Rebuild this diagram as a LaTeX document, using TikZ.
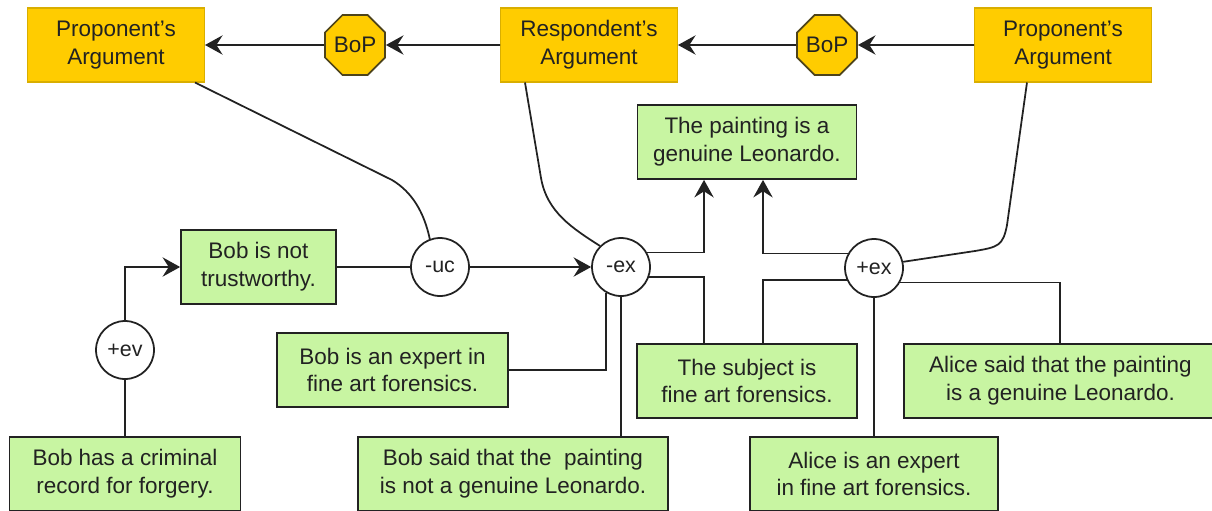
\documentclass[tikz,border=0pt]{standalone}
\usepackage{fontspec}
\setmainfont{Liberation Sans}
\usetikzlibrary{shapes.geometric,arrows.meta,calc}
\definecolor{yfill}{HTML}{FFCC00}
\definecolor{ydraw}{HTML}{D9AE00}
\definecolor{gfill}{HTML}{C8F5A2}
\definecolor{ink}{HTML}{222222}
\begin{document}
\begin{tikzpicture}[x=0.02cm,y=-0.02cm,
 font=\fontsize{12.8}{15.8}\selectfont, text=ink,
 arg/.style={rectangle, fill=yfill, draw=ydraw, line width=0.6pt, align=center, inner sep=0pt, minimum width=3.54cm, minimum height=1.48cm},
 bop/.style={regular polygon, regular polygon sides=8, fill=yfill, draw=ink!80!yfill, line width=1pt, minimum size=1.3cm, inner sep=0pt},
 prop/.style={rectangle, fill=gfill, draw=ink, line width=1pt, align=center, inner sep=0pt},
 sch/.style={circle, fill=white, draw=ink, line width=1pt, minimum size=1.16cm, inner sep=0pt, font=\fontsize{12.2}{14}\selectfont},
 link/.style={draw=ink, line width=1pt},
 arr/.style={link, -{Stealth[length=10pt, width=11pt, inset=3.5pt]}}
]
\useasboundingbox (0,0) rectangle (1212,510);

% top row
\node[arg] (p1) at (116,45) {Proponent's\\Argument};
\node[bop] (bop1) at (355,45) {BoP};
\node[arg] (resp) at (589,45) {Respondent's\\Argument};
\node[bop] (bop2) at (827,45) {BoP};
\node[arg] (p2) at (1063,45) {Proponent's\\Argument};

% propositions
\node[prop, minimum width=4.38cm, minimum height=1.48cm] (paint) at (747,142) {The painting is a\\genuine Leonardo.};
\node[prop, minimum width=3.1cm, minimum height=1.48cm] (bnt) at (258.5,267) {Bob is not\\trustworthy.};
\node[prop, minimum width=4.62cm, minimum height=1.48cm] (bexp) at (392.5,370) {Bob is an expert in\\fine art forensics.};
\node[prop, minimum width=4.4cm, minimum height=1.48cm] (subj) at (747,381) {The subject is\\fine art forensics.};
\node[prop, minimum width=6.26cm, minimum height=1.48cm] (asaid) at (1060.5,381) {Alice said that the painting\\is a genuine Leonardo.};
\node[prop, minimum width=4.62cm, minimum height=1.48cm] (crim) at (125,474) {Bob has a criminal\\record for forgery.};
\node[prop, minimum width=6.2cm, minimum height=1.48cm] (bsaid) at (513,474) {Bob said that the\ \ painting\\is not a genuine Leonardo.};
\node[prop, minimum width=4.96cm, minimum height=1.48cm] (aexp) at (874,474) {Alice is an expert\\in fine art forensics.};

% schemes
\node[sch] (ev) at (125,350) {+ev};
\node[sch] (uc) at (440,267) {-uc};
\node[sch] (ex) at (621,267) {-ex};
\node[sch] (pex) at (874,268) {+ex};

% top arrows
\draw[arr] (p2.west) -- (bop2.east);
\draw[arr] (bop2.west) -- (resp.east);
\draw[arr] (resp.west) -- (bop1.east);
\draw[arr] (bop1.west) -- (p1.east);

% argument curves
\draw[link] ([xshift=-0.2cm]p1.south east) -- (392,180) .. controls (412,192) and (424,212) .. (uc.110);
\draw[link] ([xshift=0.5cm]resp.south west) -- (541,178) .. controls (547,212) and (572,228) .. (ex.135);
\draw[link] ([xshift=1.06cm]p2.south west) -- (1007,225) .. controls (1003,246) and (998,247) .. (975,251) -- (pex.12);

% -uc
\draw[link] (bnt.east) -- (uc.west);
\draw[arr] (uc.east) -- (ex.west);

% +ev
\draw[link] (crim.north) -- (ev.south);
\draw[arr] (ev.north) |- (bnt.west);

% -ex
\draw[arr] (ex.29) -| ([xshift=-0.86cm]paint.south);
\draw[link] (ex.-20) -| ([xshift=-0.86cm]subj.north);
\draw[link] (bexp.east) -| (ex.-121);
\draw[link] (ex.south) -- (ex.south |- bsaid.north);

% +ex
\draw[arr] (pex.151) -| ([xshift=0.32cm]paint.south);
\draw[link] (pex.204) -| ([xshift=0.32cm]subj.north);
\draw[link] (pex.-29) -| ([xshift=-0.01cm]asaid.north);
\draw[link] (pex.south) -- (pex.south |- aexp.north);
\end{tikzpicture}
\end{document}
